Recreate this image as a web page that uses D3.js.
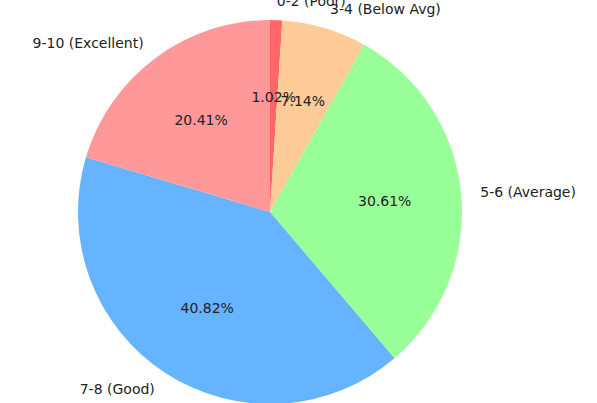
<!DOCTYPE html>
<html lang="en">
<head>
    <meta charset="UTF-8">
    <title>Rating distribution</title>
    <script src="https://d3js.org/d3.v7.min.js"></script>
    <style>
        body { margin: 0; background: #fff; }
        text { font-family: "DejaVu Sans", sans-serif; }
    </style>
</head>
<body>
    <div id="chart"></div>
    <script>
        // data
        const categories = ["0-2 (Poor)", "3-4 (Below Avg)", "5-6 (Average)", "7-8 (Good)", "9-10 (Excellent)"];
        const counts = [1, 7, 30, 40, 20];
        const colors = ["#ff6666", "#ffcc99", "#99ff99", "#66b3ff", "#ff9999"];

        const width = 597, height = 403;
        const cx = 270, cy = 212, r = 192;

        const svg = d3.select("#chart").append("svg")
            .attr("width", width)
            .attr("height", height);

        const g = svg.append("g").attr("transform", `translate(${cx},${cy})`);

        const total = d3.sum(counts);
        const data = categories.map((c, i) => ({ name: c, value: counts[i], color: colors[i] }));

        const pie = d3.pie().value(d => d.value).sort(null);
        const arcs = pie(data);
        const arc = d3.arc().innerRadius(0).outerRadius(r);

        g.selectAll("path")
            .data(arcs)
            .enter().append("path")
            .attr("d", arc)
            .attr("fill", d => d.data.color);

        // labels outside (1.1 r) and percentages inside (0.6 r)
        const mid = d => (d.startAngle + d.endAngle) / 2;

        g.selectAll("text.label")
            .data(arcs)
            .enter().append("text")
            .attr("class", "label")
            .attr("x", d => 1.1 * r * Math.sin(mid(d)))
            .attr("y", d => -1.1 * r * Math.cos(mid(d)))
            .attr("dy", "0.35em")
            .attr("text-anchor", d => Math.sin(mid(d)) >= 0 ? "start" : "end")
            .attr("font-size", 14)
            .attr("fill", "#222")
            .text(d => d.data.name);

        g.selectAll("text.pct")
            .data(arcs)
            .enter().append("text")
            .attr("class", "pct")
            .attr("x", d => 0.6 * r * Math.sin(mid(d)))
            .attr("y", d => -0.6 * r * Math.cos(mid(d)))
            .attr("dy", "0.35em")
            .attr("text-anchor", "middle")
            .attr("font-size", 14)
            .attr("fill", "#222")
            .text(d => (d.data.value / total * 100).toFixed(2) + "%");
    </script>
</body>
</html>
